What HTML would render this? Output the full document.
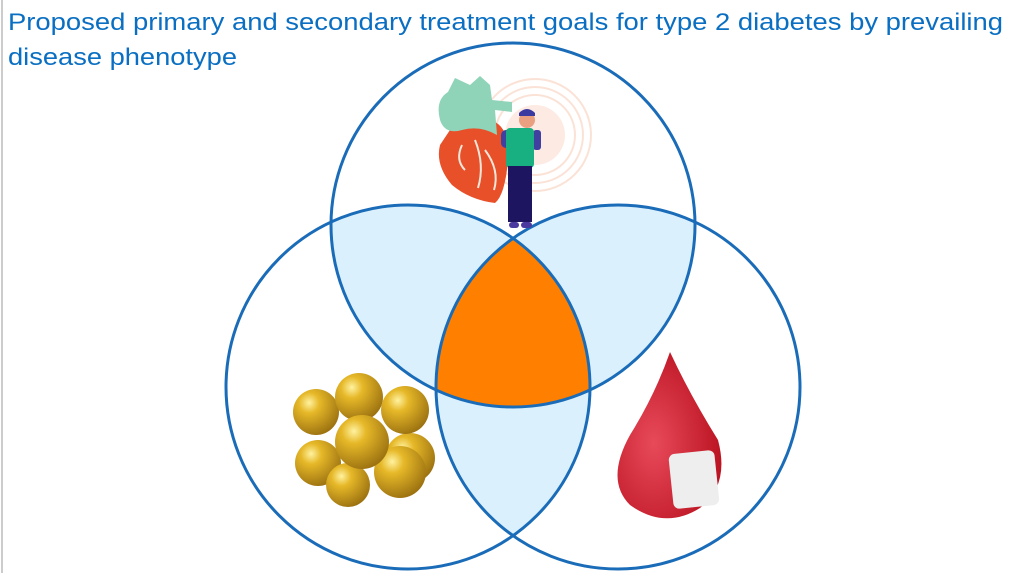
<!DOCTYPE html>
<html><head><meta charset="utf-8"><style>
html,body{margin:0;padding:0;background:#fff;width:1023px;height:573px;overflow:hidden}
svg{display:block}
</style></head><body>
<svg width="1023" height="573" viewBox="0 0 1023 573" xmlns="http://www.w3.org/2000/svg">
<defs>
<clipPath id="cT"><circle cx="513" cy="225" r="182"/></clipPath>
<clipPath id="cL"><circle cx="408" cy="387" r="182"/></clipPath>
<clipPath id="cR"><circle cx="618" cy="387" r="182"/></clipPath>
<radialGradient id="gold" cx="0.35" cy="0.3" r="0.75"><stop offset="0" stop-color="#fff2a0"/><stop offset="0.3" stop-color="#e6b828"/><stop offset="1" stop-color="#9a7010"/></radialGradient>
<radialGradient id="blood" cx="0.35" cy="0.55" r="0.7"><stop offset="0" stop-color="#e84a5a"/><stop offset="1" stop-color="#b8101e"/></radialGradient>
</defs>
<line x1="2" y1="0" x2="2" y2="573" stroke="#bbb" stroke-width="1.5"/>
<text x="8" y="30" font-family="Liberation Sans, sans-serif" font-size="24" fill="#0a6fc2" textLength="995" lengthAdjust="spacingAndGlyphs">Proposed primary and secondary treatment goals for type 2 diabetes by prevailing</text>
<text x="8" y="65" font-family="Liberation Sans, sans-serif" font-size="24" fill="#0a6fc2" textLength="229" lengthAdjust="spacingAndGlyphs">disease phenotype</text>
<g clip-path="url(#cT)"><circle cx="408" cy="387" r="182" fill="#dbf0fd"/><circle cx="618" cy="387" r="182" fill="#dbf0fd"/></g>
<g clip-path="url(#cL)"><circle cx="618" cy="387" r="182" fill="#dbf0fd"/></g>
<g clip-path="url(#cT)"><g clip-path="url(#cL)"><circle cx="618" cy="387" r="182" fill="#ff8000"/></g></g>
<g fill="none" stroke="#1a6cb8" stroke-width="3">
<circle cx="513" cy="225" r="182"/><circle cx="408" cy="387" r="182"/><circle cx="618" cy="387" r="182"/>
</g>
<!-- rings -->
<g fill="none" stroke="#fbe2d6" stroke-width="2">
<circle cx="535" cy="135" r="40"/><circle cx="535" cy="135" r="48"/><circle cx="535" cy="135" r="56"/>
</g>
<circle cx="535" cy="135" r="30" fill="#fdeae2"/>
<!-- heart -->
<path d="M450 130 Q470 118 495 122 Q510 130 508 160 Q505 195 495 203 Q470 200 452 185 Q435 165 440 145Z" fill="#e8502a"/>
<path d="M440 120 Q435 100 448 92 L455 78 L470 85 L480 76 L490 85 L492 100 L512 102 L512 112 L495 110 L497 135 Q480 125 462 130 Q445 135 440 120Z" fill="#8fd4b8"/>
<path d="M475 140 Q485 165 478 188 M485 150 Q500 170 494 190 M462 145 Q455 160 465 170" stroke="#f4e6d8" stroke-width="2" fill="none"/>
<!-- person -->
<circle cx="527" cy="120" r="8" fill="#e8a080"/>
<path d="M519 113 Q527 105 535 113 L535 116 L519 116Z" fill="#3a3aa0"/>
<rect x="501" y="130" width="20" height="18" rx="5" fill="#4040a0"/>
<rect x="533" y="130" width="8" height="20" rx="3" fill="#4040a0"/>
<rect x="506" y="128" width="28" height="40" rx="4" fill="#18b080"/>
<rect x="508" y="166" width="24" height="56" fill="#1e1560"/>
<rect x="509" y="222" width="10" height="6" rx="3" fill="#4a3aa0"/><rect x="521" y="222" width="11" height="6" rx="3" fill="#4a3aa0"/>
<!-- gold balls -->
<g fill="url(#gold)">
<circle cx="410" cy="458" r="25"/><circle cx="316" cy="412" r="23"/><circle cx="359" cy="397" r="24"/><circle cx="405" cy="410" r="24"/>
<circle cx="318" cy="463" r="23"/><circle cx="348" cy="485" r="22"/><circle cx="400" cy="472" r="26"/><circle cx="362" cy="442" r="27"/>
</g>
<!-- blood drop -->
<path d="M670 352 Q655 395 630 435 Q605 480 630 505 Q665 530 700 508 Q730 485 718 440 Q690 395 670 352Z" fill="url(#blood)"/>
<rect x="671" y="452" width="46" height="55" rx="6" fill="#eeeeee" transform="rotate(-6 694 480)"/>
</svg>
</body></html>
